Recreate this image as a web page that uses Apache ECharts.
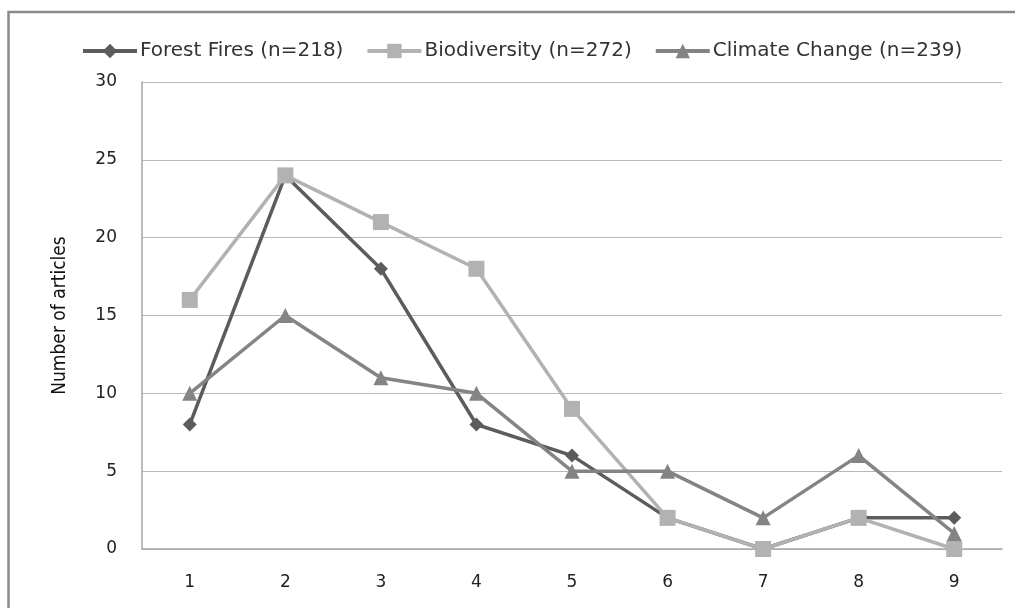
<!DOCTYPE html>
<html>
<head>
<meta charset="utf-8">
<script src="https://cdn.jsdelivr.net/npm/echarts@6/dist/echarts.min.js"></script>
<style>
html,body{margin:0;padding:0;background:#fff;}
#chart{width:1015px;height:608px;}
</style>
</head>
<body>
<div id="chart"></div>
<script>
var categories = ['1','2','3','4','5','6','7','8','9'];
var forestFires = [8, 24, 18, 8, 6, 2, 0, 2, 2];
var biodiversity = [16, 24, 21, 18, 9, 2, 0, 2, 0];
var climateChange = [10, 15, 11, 10, 5, 5, 2, 6, 1];
var seriesNames = ['Forest Fires (n=218)', 'Biodiversity (n=272)', 'Climate Change (n=239)'];
var yTitle = 'Number of articles';

var chart = echarts.init(document.getElementById('chart'), null, {renderer: 'canvas'});
var colors = ['#5c5c5c', '#b2b2b2', '#848484'];
function mk(name, data, color, symbol, size) {
  return {
    name: name, type: 'line', data: data,
    symbol: symbol, symbolSize: size,
    lineStyle: {color: color, width: 3.5},
    itemStyle: {color: color},
    emphasis: {disabled: true},
    animation: false
  };
}
chart.setOption({
  animation: false,
  graphic: [{
    type: 'rect', z: 100, silent: true,
    shape: {x: 8.5, y: 12, width: 1200, height: 800},
    style: {fill: 'none', stroke: '#8a8a8a', lineWidth: 2.5}
  }],
  legend: {
    top: 36, left: 76,
    itemWidth: 54, itemHeight: 18, itemGap: 22,
    lineStyle: {width: 4},
    textStyle: {fontFamily: 'DejaVu Sans', fontSize: 20, color: '#333', padding: [0,0,0,-2]},
    data: seriesNames
  },
  grid: {left: 142, right: 13, top: 82, bottom: 59, containLabel: false},
  xAxis: {
    type: 'category', data: categories, boundaryGap: true,
    axisLine: {lineStyle: {color: '#a6a6a6', width: 1.5}},
    axisTick: {show: false},
    axisLabel: {fontFamily: 'DejaVu Sans', fontSize: 17, color: '#222', margin: 25}
  },
  yAxis: {
    type: 'value', min: 0, max: 30, interval: 5,
    name: yTitle, nameLocation: 'middle', nameGap: 72, nameRotate: 90,
    nameTextStyle: {fontFamily: 'DejaVu Sans Condensed, Liberation Sans Narrow, DejaVu Sans', fontSize: 19, color: '#111'},
    axisLine: {show: true, lineStyle: {color: '#a6a6a6', width: 1.5}},
    axisTick: {show: false},
    splitLine: {lineStyle: {color: '#b8b8b8', width: 1}},
    axisLabel: {fontFamily: 'DejaVu Sans', fontSize: 17, color: '#222', margin: 25}
  },
  series: [
    mk(seriesNames[0], forestFires, colors[0], 'diamond', 14),
    mk(seriesNames[1], biodiversity, colors[1], 'rect', 16),
    mk(seriesNames[2], climateChange, colors[2], 'triangle', 15)
  ]
});
</script>
</body>
</html>
